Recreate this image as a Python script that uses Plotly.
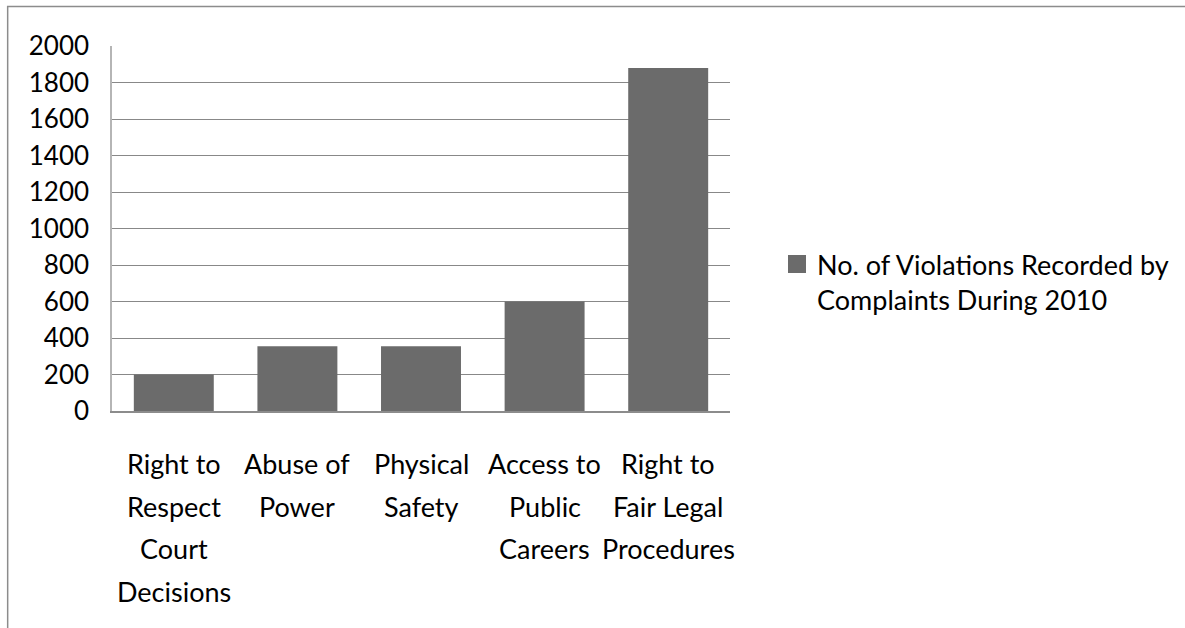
import plotly.graph_objects as go

# Complaint categories (one list of text lines per category) and recorded counts
categories = [
    "Right to Respect Court Decisions",
    "Abuse of Power",
    "Physical Safety",
    "Access to Public Careers",
    "Right to Fair Legal Procedures",
]
label_lines = [
    ["Right to", "Respect", "Court", "Decisions"],
    ["Abuse of", "Power"],
    ["Physical", "Safety"],
    ["Access to", "Public", "Careers"],
    ["Right to", "Fair Legal", "Procedures"],
]
violations = [200, 355, 355, 600, 1880]
series_name = "No. of Violations Recorded by<br>Complaints During 2010"
y_ticks = list(range(0, 2001, 200))

FONT = "Lato"
BAR_COLOR = "#6b6b6b"
W, H = 1185, 628
ML, MR, MT, MB = 112, 454, 46, 217
PW, PH = W - ML - MR, H - MT - MB

fig = go.Figure()
fig.add_trace(go.Bar(
    x=categories,
    y=violations,
    name=series_name,
    marker=dict(color=BAR_COLOR, line=dict(width=0)),
    showlegend=False,
    legendgroup="s",
))
# Legend entry for the series, with a larger square swatch
fig.add_trace(go.Scatter(
    x=[None], y=[None],
    mode="markers",
    name=series_name,
    legendgroup="s",
    marker=dict(symbol="square", size=16, color=BAR_COLOR,
                line=dict(color=BAR_COLOR, width=2)),
    showlegend=True,
    hoverinfo="skip",
))

# Multi-line category labels under the axis, with wide line spacing
LINE_GAP = 42.7
for cat, lines in zip(categories, label_lines):
    for i, line in enumerate(lines):
        fig.add_annotation(
            x=cat, xref="x", y=0, yref="paper",
            text=line, showarrow=False,
            xanchor="center", yanchor="middle",
            yshift=-(52.5 + LINE_GAP * i),
            font=dict(family=FONT, size=27, color="#000000"),
        )

# Outer chart frame
def px_x(p):
    return (p - ML) / PW

def px_y(p):
    return (H - MB - p) / PH

fig.add_shape(
    type="rect", xref="paper", yref="paper",
    x0=px_x(7.5), x1=px_x(1200), y0=px_y(645), y1=px_y(6.5),
    line=dict(color="#8c8c8c", width=1.5), fillcolor="rgba(0,0,0,0)",
    layer="below",
)

fig.update_layout(
    width=W, height=H,
    margin=dict(l=ML, r=MR, t=MT, b=MB, pad=0),
    paper_bgcolor="#ffffff",
    plot_bgcolor="#ffffff",
    bargap=0.353,
    font=dict(family=FONT, size=26, color="#000000"),
    xaxis=dict(
        type="category",
        categoryorder="array", categoryarray=categories,
        range=[-0.5, len(categories) - 0.5],
        showticklabels=False,
        showgrid=False,
        showline=True, linecolor="#8c8c8c", linewidth=1.5,
        ticks="",
        zeroline=False,
    ),
    yaxis=dict(
        range=[0, 2000],
        tickvals=y_ticks,
        ticktext=[str(v) for v in y_ticks],
        showgrid=True, gridcolor="#888888", gridwidth=1,
        showline=True, linecolor="#b5b5b5", linewidth=1.5,
        ticks="", ticklabelstandoff=16,
        zeroline=False,
        tickfont=dict(family=FONT, size=26, color="#000000"),
    ),
    legend=dict(
        x=px_x(777), xanchor="left",
        y=px_y(240), yanchor="top",
        font=dict(family=FONT, size=27, color="#000000"),
        valign="top",
        bgcolor="rgba(0,0,0,0)",
        itemsizing="trace",
    ),
)

fig.write_html("out.html")
